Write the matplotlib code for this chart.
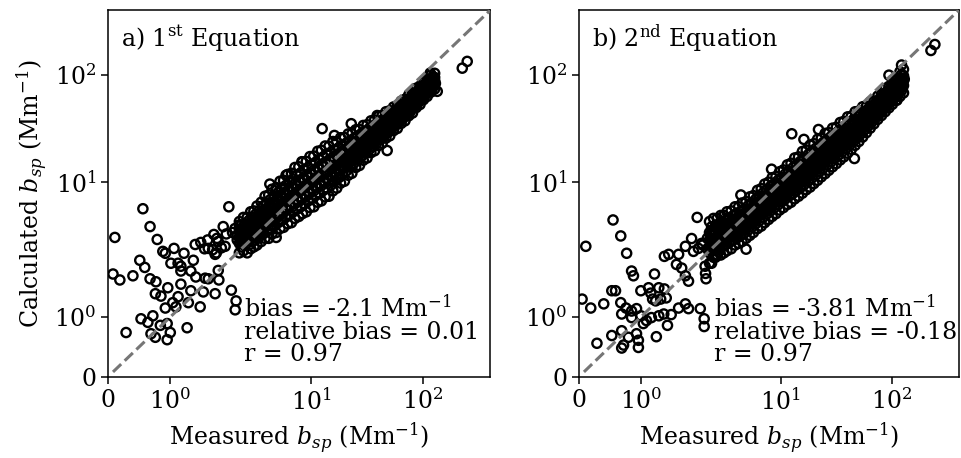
import numpy as np
import matplotlib
matplotlib.use('Agg')
import matplotlib.pyplot as plt
from matplotlib.ticker import FixedLocator, NullLocator

plt.rcParams['font.family'] = ['DejaVu Serif']
plt.rcParams['mathtext.fontset'] = 'dejavuserif'
plt.rcParams['font.size'] = 17

# measured values of the dense band (shared by both panels)
band_x = [2.3, 2.5, 2.7, 2.9, 3.1, 3.3, 3.6, 3.9, 4.2, 4.5,
          4.9, 5.3, 5.7, 6.2, 6.7, 7.2, 7.8, 8.4, 9.1, 9.8,
          10.6, 11.5, 12.4, 13.4, 14.5, 15.7, 17.0, 18.4, 19.9, 21.5,
          23.2, 25.1, 27.1, 29.3, 31.7, 34.3, 37.0, 40.0, 43.2, 46.7,
          50.5, 54.6, 59.0, 63.8, 69.0, 74.6, 80.6, 87.0, 94.0, 101,
          109, 118, 127]
band_x2 = [2.4, 2.6, 2.8, 3.0, 3.2, 3.45, 3.75, 4.05, 4.35, 4.7,
           5.1, 5.5, 5.95, 6.45, 6.95, 7.5, 8.1, 8.75, 9.45, 10.2,
           11.0, 11.9, 12.9, 13.9, 15.1, 16.3, 17.7, 19.1, 20.7, 22.3,
           24.1, 26.1, 28.2, 30.5, 33.0, 35.6, 38.5, 41.6, 44.9, 48.6,
           52.5, 56.8, 61.4, 66.4, 71.8, 77.6, 83.8, 90.5, 97.5, 105,
           113, 122]

# panel a: calculated values along the band
a_lo = [2.2, 2.3, 2.2, 2.4, 2.5, 2.6, 2.8, 3.0, 3.0, 3.3,
        3.4, 3.7, 3.8, 4.1, 4.2, 4.6, 4.8, 5.1, 5.3, 5.8,
        5.9, 6.5, 6.7, 7.3, 7.4, 8.3, 8.8, 9.8, 10.2, 11.6,
        12.1, 13.7, 14.3, 16.0, 16.8, 18.8, 19.6, 21.9, 23.0, 25.7,
        27.0, 30.2, 31.6, 35.2, 37.2, 41.5, 44.0, 49.5, 52.8, 58.6,
        62.8, 69.0, 73.5]
a_cl = [2.7, 2.8, 2.9, 3.0, 3.1, 3.3, 3.6, 3.9, 4.0, 4.3,
        4.6, 4.9, 5.2, 5.6, 5.8, 6.3, 6.6, 7.0, 7.4, 7.9,
        8.3, 8.9, 9.3, 9.9, 10.3, 11.2, 11.9, 12.8, 13.7, 14.8,
        15.8, 17.1, 18.2, 19.7, 21.0, 22.6, 24.1, 25.9, 27.7, 29.9,
        32.0, 34.6, 37.0, 40.0, 43.1, 46.7, 50.3, 55.2, 59.8, 64.9,
        70.4, 76.2, 82.0]
a_c = [3.1, 3.2, 3.3, 3.5, 3.7, 3.9, 4.3, 4.6, 4.9, 5.2,
       5.6, 6.0, 6.4, 6.8, 7.3, 7.8, 8.3, 8.7, 9.3, 9.8,
       10.4, 11.0, 11.7, 12.3, 12.9, 13.8, 14.7, 15.6, 16.6, 17.7,
       18.8, 20.1, 21.4, 22.8, 24.3, 25.9, 27.6, 29.4, 31.4, 33.5,
       35.8, 38.3, 41.0, 44.0, 47.5, 51.0, 55.0, 60.0, 65.0, 70.0,
       76.0, 82.0, 88.0]
a_ch = [3.6, 3.7, 3.8, 4.1, 4.4, 4.6, 5.1, 5.5, 5.9, 6.3,
        6.8, 7.4, 7.9, 8.4, 9.0, 9.7, 10.3, 10.8, 11.6, 12.2,
        13.0, 13.7, 14.6, 15.3, 16.1, 17.1, 18.0, 19.0, 20.0, 21.2,
        22.3, 23.6, 25.0, 26.5, 28.0, 29.7, 31.5, 33.3, 35.4, 37.6,
        39.9, 42.4, 45.3, 48.4, 52.1, 55.7, 60.0, 65.2, 70.4, 75.5,
        81.8, 88.2, 94.3]
a_hi = [4.3, 4.7, 4.7, 5.3, 5.4, 6.0, 6.5, 7.4, 7.6, 8.6,
        8.9, 10.2, 10.4, 11.8, 12.1, 13.7, 13.9, 15.4, 15.6, 17.3,
        17.5, 19.4, 19.8, 21.7, 21.6, 23.9, 23.8, 25.9, 26.0, 28.1,
        28.2, 30.7, 30.9, 33.7, 34.2, 37.2, 37.8, 40.9, 41.8, 45.2,
        46.3, 50.1, 51.8, 56.7, 59.1, 64.7, 67.3, 74.8, 78.4, 85.8,
        90.0, 99.5, 103.0]
a_mlo = [2.5, 2.6, 2.6, 2.8, 2.9, 3.1, 3.3, 3.5, 3.7, 3.9,
         4.2, 4.4, 4.7, 5.0, 5.3, 5.6, 5.9, 6.3, 6.7, 7.1,
         7.5, 7.9, 8.4, 8.8, 9.4, 10.2, 11.0, 11.8, 12.7, 13.8,
         14.9, 16.0, 17.3, 18.6, 20.0, 21.5, 23.1, 24.9, 26.8, 28.9,
         31.2, 33.7, 36.3, 39.3, 42.5, 46.0, 50.1, 54.8, 59.5, 64.7,
         70.2, 75.7]
a_qlo = [2.83, 2.91, 3.03, 3.19, 3.36, 3.61, 3.89, 4.13, 4.38, 4.66,
         4.99, 5.32, 5.64, 6.01, 6.42, 6.83, 7.21, 7.63, 8.10, 8.57,
         9.08, 9.63, 10.18, 10.69, 11.35, 12.2, 13.05, 13.94, 14.95, 16.02,
         17.17, 18.43, 19.73, 21.1, 22.59, 24.19, 25.86, 27.71, 29.72, 31.88,
         34.24, 36.78, 39.5, 42.64, 45.98, 49.63, 53.99, 58.8, 63.68, 69.0,
         74.81, 80.57]
a_mc = [3.15, 3.25, 3.4, 3.6, 3.8, 4.1, 4.45, 4.75, 5.05, 5.4,
        5.8, 6.2, 6.6, 7.05, 7.55, 8.05, 8.5, 9.0, 9.55, 10.1,
        10.7, 11.35, 12.0, 12.6, 13.35, 14.25, 15.15, 16.1, 17.15, 18.25,
        19.45, 20.75, 22.1, 23.55, 25.1, 26.75, 28.5, 30.4, 32.45, 34.65,
        37.05, 39.65, 42.5, 45.75, 49.25, 53.0, 57.5, 62.5, 67.5, 73.0,
        79.0, 85.0]
a_qhi = [3.51, 3.63, 3.81, 4.06, 4.30, 4.66, 5.09, 5.46, 5.82, 6.25,
         6.74, 7.23, 7.72, 8.28, 8.88, 9.48, 10.02, 10.61, 11.26, 11.91,
         12.62, 13.38, 14.15, 14.86, 15.70, 16.64, 17.59, 18.6, 19.67, 20.79,
         22.04, 23.36, 24.75, 26.28, 27.89, 29.59, 31.41, 33.35, 35.44, 37.66,
         40.09, 42.74, 45.73, 49.09, 52.75, 56.6, 61.24, 66.44, 71.55, 77.23,
         83.42, 89.68]
a_mhi = [4.0, 4.1, 4.4, 4.7, 5.0, 5.4, 6.0, 6.4, 6.9, 7.4,
         8.0, 8.7, 9.3, 10.0, 10.7, 11.5, 12.2, 12.9, 13.7, 14.4,
         15.3, 16.2, 17.2, 18.0, 19.0, 20.0, 20.9, 22.0, 23.1, 24.2,
         25.5, 26.8, 28.3, 29.8, 31.5, 33.3, 35.1, 37.2, 39.3, 41.5,
         43.9, 46.7, 49.8, 53.3, 57.1, 61.1, 66.0, 71.3, 76.6, 82.4,
         89.0, 95.5]

# panel b: calculated values along the band
b_lo = [1.9, 2.0, 2.1, 2.1, 2.2, 2.3, 2.4, 2.6, 2.7, 2.8,
        3.0, 3.2, 3.4, 3.7, 3.9, 4.2, 4.5, 4.8, 5.1, 5.5,
        5.8, 6.2, 6.5, 7.0, 7.4, 7.9, 8.5, 9.0, 9.7, 10.4,
        11.2, 12.0, 12.9, 13.9, 14.9, 16.1, 17.2, 18.6, 20.2, 22.0,
        23.9, 26.3, 28.9, 31.8, 34.9, 38.4, 41.7, 45.3, 49.2, 53.1,
        57.8, 62.8, 67.7]
b_cl = [2.5, 2.6, 2.6, 2.7, 2.8, 2.9, 3.1, 3.3, 3.4, 3.6,
        3.8, 4.1, 4.3, 4.7, 5.0, 5.4, 5.8, 6.1, 6.6, 7.0,
        7.5, 8.0, 8.4, 9.0, 9.6, 10.2, 11.0, 11.8, 12.6, 13.5,
        14.4, 15.5, 16.5, 17.7, 18.9, 20.3, 21.7, 23.4, 25.2, 27.1,
        29.3, 31.8, 34.4, 37.4, 40.7, 44.4, 48.2, 52.3, 56.8, 61.6,
        67.0, 73.2, 79.3]
b_c = [2.9, 3.0, 3.1, 3.2, 3.3, 3.45, 3.65, 3.85, 4.0, 4.2,
       4.45, 4.8, 5.1, 5.5, 5.9, 6.3, 6.8, 7.2, 7.7, 8.2,
       8.8, 9.4, 10.0, 10.7, 11.4, 12.2, 13.1, 14.0, 15.0, 16.0,
       17.1, 18.3, 19.5, 20.8, 22.2, 23.8, 25.4, 27.2, 29.1, 31.2,
       33.5, 36.0, 38.7, 41.7, 45.0, 48.8, 53.0, 57.5, 62.5, 68.0,
       74.0, 81.0, 88.0]
b_ch = [3.4, 3.5, 3.7, 3.8, 3.9, 4.1, 4.3, 4.5, 4.7, 4.9,
        5.2, 5.6, 6.0, 6.5, 6.9, 7.4, 8.0, 8.5, 9.1, 9.6,
        10.4, 11.1, 11.9, 12.7, 13.6, 14.5, 15.6, 16.7, 17.9, 19.0,
        20.3, 21.6, 23.0, 24.5, 26.0, 27.9, 29.7, 31.6, 33.7, 35.9,
        38.3, 40.8, 43.5, 46.5, 49.8, 53.7, 58.3, 63.3, 68.8, 75.1,
        81.7, 89.7, 97.7]
b_hi = [4.3, 4.6, 4.6, 4.9, 4.9, 5.3, 5.4, 5.9, 5.9, 6.4,
        6.6, 7.3, 7.5, 8.4, 8.7, 9.6, 10.0, 11.0, 11.3, 12.5,
        13.0, 14.5, 15.0, 16.8, 17.2, 19.3, 19.9, 22.1, 22.8, 25.1,
        25.6, 28.4, 28.9, 31.8, 32.4, 35.9, 36.8, 40.5, 41.1, 45.2,
        46.0, 50.3, 50.8, 55.7, 56.9, 63.2, 66.0, 74.5, 77.8, 88.8,
        92.8, 106.6, 112.1]
b_mlo = [2.27, 2.35, 2.42, 2.5, 2.6, 2.73, 2.88, 3.02, 3.15, 3.33,
         3.56, 3.81, 4.08, 4.38, 4.69, 5.04, 5.38, 5.73, 6.12, 6.54,
         6.97, 7.4, 7.87, 8.37, 8.91, 9.51, 10.19, 10.9, 11.65, 12.49,
         13.41, 14.37, 15.38, 16.54, 17.76, 19.07, 20.47, 22.08, 23.87, 25.88,
         28.14, 30.69, 33.5, 36.55, 39.91, 43.58, 47.3, 51.37, 55.77, 60.48,
         65.79, 71.43]
b_qlo = [2.61, 2.70, 2.79, 2.88, 2.99, 3.14, 3.32, 3.48, 3.63, 3.84,
         4.10, 4.38, 4.69, 5.05, 5.40, 5.80, 6.20, 6.60, 7.04, 7.53,
         8.04, 8.56, 9.13, 9.74, 10.39, 11.1, 11.89, 12.72, 13.6, 14.53,
         15.57, 16.65, 17.8, 19.04, 20.41, 21.87, 23.42, 25.13, 27.02, 29.12,
         31.42, 33.99, 36.81, 40.06, 43.55, 47.39, 51.44, 55.87, 60.7, 65.92,
         71.89, 78.24]
b_mc = [2.95, 3.05, 3.15, 3.25, 3.38, 3.55, 3.75, 3.93, 4.1, 4.33,
        4.63, 4.95, 5.3, 5.7, 6.1, 6.55, 7.0, 7.45, 7.95, 8.5,
        9.1, 9.7, 10.35, 11.05, 11.8, 12.65, 13.55, 14.5, 15.5, 16.55,
        17.7, 18.9, 20.15, 21.5, 23.0, 24.6, 26.3, 28.15, 30.15, 32.35,
        34.75, 37.35, 40.2, 43.35, 46.9, 50.9, 55.25, 60.0, 65.25, 71.0,
        77.5, 84.5]
b_qhi = [3.33, 3.44, 3.56, 3.67, 3.82, 4.01, 4.23, 4.44, 4.63, 4.89,
         5.23, 5.59, 5.98, 6.44, 6.89, 7.39, 7.90, 8.41, 8.98, 9.60,
         10.3, 10.99, 11.74, 12.54, 13.4, 14.42, 15.45, 16.53, 17.67, 18.85,
         20.12, 21.45, 22.81, 24.27, 25.92, 27.68, 29.53, 31.53, 33.65, 35.94,
         38.43, 41.05, 43.9, 46.9, 50.51, 54.67, 59.34, 64.44, 70.14, 76.47,
         83.55, 91.26]
b_mhi = [3.84, 3.97, 4.1, 4.23, 4.39, 4.62, 4.88, 5.11, 5.33, 5.63,
         6.02, 6.44, 6.89, 7.41, 7.93, 8.52, 9.1, 9.69, 10.34, 11.05,
         11.88, 12.71, 13.61, 14.59, 15.64, 16.82, 18.02, 19.29, 20.62, 21.93,
         23.36, 24.85, 26.4, 27.95, 29.79, 31.73, 33.8, 35.89, 38.08, 40.44,
         42.92, 45.45, 48.24, 51.41, 55.11, 59.45, 64.53, 70.08, 76.34, 83.35,
         91.3, 99.96]

# panel a: scattered points off the band
extra_a_x = [0.56, 1.94, 0.11, 0.675, 0.79, 0.88, 0.92, 1.06, 1.22, 0.51,
             0.59, 1.01, 1.125, 1.17, 1.37, 1.40, 1.49, 1.70, 1.85, 1.77,
             1.88, 1.61, 1.72, 0.08, 0.19, 0.40, 0.675, 0.77, 1.17, 1.33,
             1.41, 1.56, 1.61, 1.77, 1.78, 0.96, 0.76, 0.85, 1.17, 1.33,
             1.53, 1.72, 1.125, 1.04, 0.92, 1.09, 1.29, 1.48, 1.98, 2.15,
             2.11, 0.53, 0.64, 0.72, 0.29, 0.84, 0.95, 1.0, 0.95, 0.76,
             0.69, 1.27, 2.0, 2.1, 2.2, 2.3, 2.4, 2.5, 2.2, 2.6,
             2.45, 1.75, 1.9, 1.6, 1.55, 1.68, 1.82, 1.74, 4.9, 12.6,
             22.9, 16.2, 47.9, 39.0, 4.3, 6.0, 8.3, 116, 224, 248,
             134, 129]
extra_a_y = [5.66, 5.9, 3.06, 3.86, 2.93, 2.27, 2.18, 2.42, 2.18, 1.95,
             1.83, 1.90, 1.90, 1.85, 1.95, 2.63, 2.75, 3.26, 3.86, 2.81,
             2.53, 2.42, 2.13, 1.72, 1.62, 1.69, 1.64, 1.59, 1.77, 1.77,
             1.67, 1.65, 1.64, 1.78, 1.62, 1.49, 1.39, 1.35, 1.55, 1.44,
             1.42, 1.39, 1.34, 1.24, 1.15, 1.17, 1.24, 1.17, 1.45, 1.27,
             1.12, 0.97, 0.91, 1.02, 0.74, 0.86, 0.89, 0.74, 0.62, 0.66,
             0.72, 0.82, 3.4, 3.7, 3.2, 4.0, 3.5, 3.9, 2.9, 3.1,
             2.7, 3.0, 3.3, 2.9, 2.4, 2.35, 2.45, 2.2, 3.06, 31.5,
             35.0, 27.2, 19.7, 41.7, 9.6, 11.6, 15.5, 103.5, 115, 133,
             70, 83]

# panel b: scattered points off the band
extra_b_x = [0.55, 0.675, 0.11, 0.77, 0.85, 0.88, 1.22, 1.38, 1.45, 1.575,
             1.61, 1.72, 1.82, 1.85, 1.93, 1.98, 1.66, 1.72, 1.77, 0.53,
             0.59, 1.0, 1.125, 1.16, 1.29, 1.38, 1.41, 1.32, 1.19, 1.24,
             0.05, 0.19, 0.40, 0.675, 0.76, 0.69, 0.85, 0.93, 0.85, 1.0,
             1.04, 1.09, 1.17, 1.29, 1.37, 1.49, 1.61, 1.72, 1.77, 1.43,
             0.69, 0.53, 0.80, 0.93, 0.96, 0.72, 0.69, 0.96, 0.29, 1.25,
             1.96, 2.06, 2.06, 2.14, 2.12, 2.1, 1.91, 4.9, 4.4, 8.3,
             12.6, 16.2, 21.9, 46.0, 94, 122, 129, 111, 224, 243,
             2.0, 2.2, 2.3, 2.4, 2.5, 2.2, 2.6, 2.4]
extra_b_y = [4.45, 3.16, 2.53, 2.18, 1.77, 1.69, 1.72, 2.04, 2.13, 1.88,
             2.13, 2.53, 2.99, 2.27, 2.42, 2.69, 1.82, 1.69, 1.60, 1.44,
             1.44, 1.44, 1.49, 1.40, 1.49, 1.47, 1.32, 1.30, 1.30, 1.27,
             1.30, 1.15, 1.22, 1.24, 1.15, 1.05, 1.10, 1.14, 0.99, 1.02,
             0.89, 0.94, 0.99, 1.02, 1.05, 1.04, 1.15, 1.22, 1.14, 0.86,
             0.77, 0.69, 0.66, 0.72, 0.61, 0.53, 0.48, 0.49, 0.56, 0.67,
             1.14, 0.97, 0.84, 1.64, 1.73, 1.85, 4.7, 2.38, 7.6, 13.2,
             28.2, 25.0, 30.9, 16.6, 99, 123, 91, 58, 168, 191,
             2.6, 3.0, 2.2, 3.4, 2.5, 2.4, 2.0, 1.9]

panels = [
    ('a) 1$^{\\rm st}$ Equation', [a_lo, a_cl, a_c, a_ch, a_hi],
     [a_mlo, a_qlo, a_mc, a_qhi, a_mhi], extra_a_x, extra_a_y,
     'bias = -2.1 Mm$^{-1}$\nrelative bias = 0.01\nr = 0.97'),
    ('b) 2$^{\\rm nd}$ Equation', [b_lo, b_cl, b_c, b_ch, b_hi],
     [b_mlo, b_qlo, b_mc, b_qhi, b_mhi], extra_b_x, extra_b_y,
     'bias = -3.81 Mm$^{-1}$\nrelative bias = -0.18\nr = 0.97'),
]

fig = plt.figure(figsize=(9.61, 4.58), dpi=100)
axes = [fig.add_axes([0.1124, 0.1775, 0.398, 0.8007]),
        fig.add_axes([0.6025, 0.1775, 0.3954, 0.8007])]

for ax, (title, rows, mrows, ex, ey, stats) in zip(axes, panels):
    mx = np.concatenate([np.tile(band_x, len(rows)), np.tile(band_x2, len(mrows)), ex])
    cy = np.concatenate([np.concatenate(rows), np.concatenate(mrows), ey])
    ax.scatter(mx, cy, s=44, facecolors='none', edgecolors='k', linewidths=1.7, zorder=2)
    ax.plot([0.08, 400], [0.08, 400], '--', color='#767676', lw=2.2, zorder=3)
    ax.set_xscale('symlog', linthresh=2)
    ax.set_yscale('symlog', linthresh=2)
    ax.set_xlim(0, 400)
    ax.set_ylim(0, 400)
    for axis in (ax.xaxis, ax.yaxis):
        axis.set_major_locator(FixedLocator([0, 1, 10, 100]))
        axis.set_minor_locator(NullLocator())
    ax.tick_params(length=5, width=1.1)
    for sp in ax.spines.values():
        sp.set_linewidth(1.1)
    ax.text(0.035, 0.965, title, transform=ax.transAxes, va='top', ha='left')
    ax.text(0.355, 0.03, stats, transform=ax.transAxes, va='bottom', ha='left',
            linespacing=0.95)
    ax.set_xlabel('Measured $b_{sp}$ (Mm$^{-1}$)')

axes[0].set_ylabel('Calculated $b_{sp}$ (Mm$^{-1}$)')

fig.savefig('out.png', dpi=100)
